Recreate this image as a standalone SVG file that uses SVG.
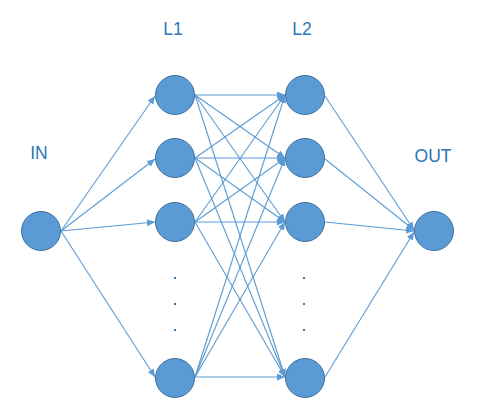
<svg xmlns="http://www.w3.org/2000/svg" width="480" height="416" viewBox="0 0 480 416">
<defs>
<marker id="ah" viewBox="0 0 8 7" refX="8" refY="3.5" markerWidth="8" markerHeight="7" markerUnits="userSpaceOnUse" orient="auto">
<path d="M0,0 L8,3.5 L0,7 Z" fill="#5B9BD5"/>
</marker>
<style>
.n{fill:#5B9BD5;stroke:#41719C;stroke-width:1}
.e{stroke:#5B9BD5;stroke-width:1.1;fill:none;marker-end:url(#ah)}
.t{font-family:"Liberation Sans",Arial,sans-serif;font-size:17.5px;fill:#2E75B6;text-anchor:middle}
.d{fill:#2E75B6}
</style>
</defs>
<rect width="480" height="416" fill="#fff"/>
<g id="connectors">
<line class="e" x1="61" y1="231" x2="155" y2="96"/>
<line class="e" x1="61" y1="231" x2="155" y2="159"/>
<line class="e" x1="61" y1="231" x2="155" y2="222"/>
<line class="e" x1="61" y1="231" x2="155" y2="377"/>
<line class="e" x1="195" y1="95" x2="285" y2="95"/>
<line class="e" x1="195" y1="95" x2="285" y2="158"/>
<line class="e" x1="195" y1="95" x2="285" y2="222"/>
<line class="e" x1="195" y1="95" x2="285" y2="377"/>
<line class="e" x1="195" y1="158" x2="285" y2="95"/>
<line class="e" x1="195" y1="158" x2="285" y2="158"/>
<line class="e" x1="195" y1="158" x2="285" y2="222"/>
<line class="e" x1="195" y1="158" x2="285" y2="377"/>
<line class="e" x1="195" y1="222" x2="285" y2="95"/>
<line class="e" x1="195" y1="222" x2="285" y2="158"/>
<line class="e" x1="195" y1="222" x2="285" y2="222"/>
<line class="e" x1="195" y1="222" x2="285" y2="377"/>
<line class="e" x1="195" y1="377" x2="285" y2="95"/>
<line class="e" x1="195" y1="377" x2="285" y2="158"/>
<line class="e" x1="195" y1="377" x2="285" y2="222"/>
<line class="e" x1="195" y1="377" x2="285" y2="377"/>
<line class="e" x1="325" y1="96" x2="414" y2="230"/>
<line class="e" x1="325" y1="159" x2="414" y2="230"/>
<line class="e" x1="325" y1="222" x2="414" y2="231"/>
<line class="e" x1="325" y1="377" x2="414" y2="232"/>
</g>
<g id="in"><circle class="n" cx="41" cy="231" r="19.5"/></g>
<g id="l1-1"><circle class="n" cx="175" cy="95" r="19.5"/></g>
<g id="l1-2"><circle class="n" cx="175" cy="158" r="19.5"/></g>
<g id="l1-3"><circle class="n" cx="175" cy="222" r="19.5"/></g>
<g id="l1-4"><circle class="n" cx="175" cy="378" r="19.5"/></g>
<g id="l2-1"><circle class="n" cx="305" cy="95" r="19.5"/></g>
<g id="l2-2"><circle class="n" cx="305" cy="158" r="19.5"/></g>
<g id="l2-3"><circle class="n" cx="305" cy="222" r="19.5"/></g>
<g id="l2-4"><circle class="n" cx="305" cy="378" r="19.5"/></g>
<g id="out"><circle class="n" cx="434" cy="231" r="19.5"/></g>
<g id="dots">
<rect class="d" x="174" y="277" width="2" height="2"/>
<rect class="d" x="174" y="303" width="2" height="2"/>
<rect class="d" x="174" y="329" width="2" height="2"/>
<rect class="d" x="303" y="277" width="2" height="2"/>
<rect class="d" x="303" y="303" width="2" height="2"/>
<rect class="d" x="303" y="329" width="2" height="2"/>
</g>
<g id="labels">
<text class="t" x="173" y="35">L1</text>
<text class="t" x="302" y="35">L2</text>
<text class="t" x="39" y="159">IN</text>
<text class="t" x="433" y="162">OUT</text>
</g>
</svg>
